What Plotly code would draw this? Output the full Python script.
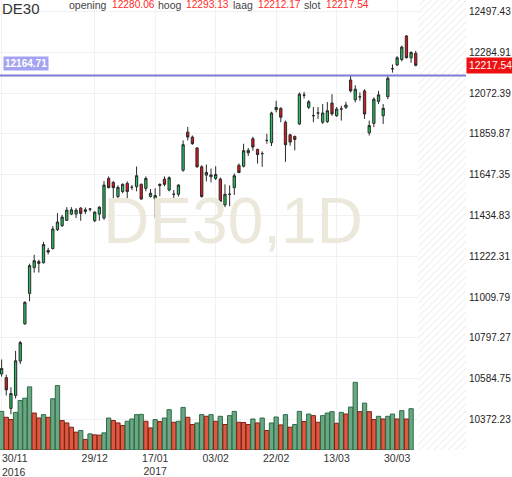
import pandas as pd
import plotly.graph_objects as go

# DE30 daily candles, 30/11/2016 - 05/04/2017 (26/12 closed)
dates = [d for d in pd.bdate_range("2016-11-30", "2017-04-05") if d != pd.Timestamp("2016-12-26")]

opens = [10609.8, 10590.7, 10430.6, 10497.8, 10676.9, 10871.0, 11029.6, 11163.8, 11194.8, 11189.6,
         11253.1, 11263.4, 11361.5, 11382.2, 11410.1, 11442.6, 11442.6, 11473.6, 11456.5, 11468.4,
         11408.0, 11442.6, 11421.9, 11628.5, 11607.8, 11534.0, 11559.8, 11602.6, 11582.0, 11585.6,
         11597.5, 11576.8, 11534.0, 11521.6, 11590.8, 11624.8, 11568.1, 11545.9, 11545.9, 11671.3,
         11869.6, 11843.8, 11787.0, 11688.9, 11645.5, 11637.2, 11628.5, 11624.8, 11490.6, 11545.9,
         11580.4, 11697.1, 11692.0, 11761.7, 11835.0, 11779.7, 11757.5, 11826.2, 11814.3, 11986.3,
         11993.5, 11921.2, 11855.6, 11846.9, 11912.4, 12062.2, 11998.6, 11955.3, 11969.2, 11921.2,
         11924.3, 12020.8, 11955.3, 11989.9, 11998.6, 12141.1, 12037.9, 12053.4, 12084.4, 11866.0,
         11915.0, 12029.6, 11955.3, 12054.4, 12200.0, 12219.6, 12248.0, 12370.4, 12256.8, 12280.06]
highs = [10685.2, 10606.2, 10540.6, 10730.1, 10781.7, 10988.2, 11184.4, 11230.9, 11205.1, 11298.0,
         11267.0, 11380.6, 11447.8, 11439.0, 11478.7, 11478.7, 11473.6, 11478.7, 11477.2, 11473.6,
         11456.5, 11483.9, 11614.5, 11638.8, 11614.5, 11592.3, 11602.6, 11613.0, 11593.9, 11690.4,
         11602.6, 11638.8, 11573.2, 11576.8, 11602.6, 11638.8, 11638.8, 11568.1, 11597.5, 11826.2,
         11896.9, 11852.0, 11792.1, 11697.1, 11700.7, 11680.1, 11692.0, 11633.6, 11597.5, 11592.3,
         11654.3, 11705.9, 11809.2, 11787.0, 11845.3, 11783.3, 11769.4, 11860.8, 11975.9, 12032.7,
         11998.6, 11929.5, 11860.8, 11852.0, 12076.1, 12079.2, 12036.3, 12000.2, 12000.2, 12015.7,
         12026.0, 12067.3, 12000.2, 12006.9, 12027.6, 12161.8, 12113.8, 12076.1, 12093.1, 11929.5,
         12050.3, 12084.4, 12015.7, 12165.4, 12222.2, 12265.1, 12320.3, 12375.5, 12290.9, 12293.13]
lows = [10595.9, 10497.8, 10399.7, 10482.3, 10661.4, 10865.9, 10988.2, 11138.0, 11138.0, 11184.4,
        11232.5, 11258.3, 11354.8, 11375.5, 11406.5, 11437.4, 11421.9, 11408.0, 11442.6, 11456.5,
        11401.3, 11408.0, 11413.2, 11576.8, 11525.2, 11525.2, 11551.0, 11525.2, 11568.1, 11561.3,
        11516.4, 11561.3, 11528.8, 11421.9, 11535.5, 11587.2, 11561.3, 11516.4, 11534.0, 11663.1,
        11826.2, 11804.0, 11683.7, 11528.8, 11613.0, 11607.8, 11619.7, 11499.4, 11478.7, 11483.9,
        11542.2, 11655.8, 11685.3, 11745.7, 11773.0, 11705.9, 11688.9, 11809.2, 11797.3, 11972.8,
        11921.2, 11714.7, 11798.8, 11774.6, 11907.3, 12045.1, 11989.9, 11921.2, 11938.2, 11912.4,
        11917.6, 11955.3, 11948.6, 11929.5, 11989.9, 12076.1, 12024.5, 12032.7, 11938.2, 11852.0,
        11895.4, 12015.7, 11912.4, 12041.5, 12179.4, 12213.4, 12237.7, 12253.2, 12231.0, 12212.17]
closes = [10638.7, 10527.2, 10508.1, 10678.5, 10773.0, 10983.1, 11174.1, 11199.9, 11186.0, 11284.1,
          11244.8, 11365.1, 11401.3, 11427.1, 11463.2, 11464.8, 11463.2, 11446.2, 11464.8, 11468.9,
          11452.9, 11478.7, 11593.9, 11580.4, 11580.4, 11582.0, 11597.5, 11559.8, 11582.0, 11642.4,
          11521.6, 11628.5, 11551.0, 11539.1, 11597.5, 11597.5, 11632.1, 11545.9, 11593.9, 11804.0,
          11843.8, 11809.2, 11688.9, 11534.0, 11659.4, 11646.5, 11649.1, 11508.2, 11545.9, 11545.9,
          11642.4, 11659.4, 11773.0, 11774.6, 11792.1, 11752.4, 11757.5, 11826.2, 11969.2, 11998.6,
          11947.0, 11804.0, 11817.9, 11831.4, 12067.3, 12062.2, 12027.6, 11955.3, 11969.2, 11969.2,
          11981.1, 11964.1, 11989.9, 11989.9, 12010.5, 12084.4, 12093.1, 12053.4, 11964.1, 11903.6,
          12041.5, 12063.7, 11993.5, 12149.9, 12200.0, 12256.8, 12312.6, 12256.8, 12284.2, 12217.54]
# volume in thousands, last session not shown yet
volume_k = [39.0, 33.0, 30.7, 38.0, 50.0, 52.3, 63.7, 37.3, 32.3, 35.7,
            33.0, 51.7, 65.0, 29.7, 27.3, 23.0, 18.0, 19.7, 10.7, 16.3,
            15.3, 15.0, 17.3, 32.3, 29.7, 27.3, 24.7, 29.0, 31.3, 35.7,
            36.0, 29.0, 22.3, 30.7, 28.7, 32.3, 40.7, 28.0, 29.0, 43.0,
            33.0, 25.7, 27.3, 35.7, 34.0, 35.7, 29.0, 34.0, 25.7, 34.7,
            39.0, 28.0, 27.7, 25.7, 31.3, 27.3, 32.3, 19.7, 27.3, 33.3,
            25.3, 35.7, 23.0, 25.7, 39.0, 28.7, 36.3, 34.7, 28.0, 34.7,
            37.3, 38.7, 27.0, 38.0, 36.3, 43.3, 68.3, 38.7, 47.3, 38.7,
            30.7, 34.0, 31.3, 34.0, 36.3, 31.3, 39.7, 31.3, 41.7, None]

level = 12164.71
header_labels = ["opening", "hoog", "laag", "slot"]
header_values = [opens[-1], highs[-1], lows[-1], closes[-1]]
price_ticks = [10372.23, 10584.75, 10797.27, 11009.79, 11222.31, 11434.83,
               11647.35, 11859.87, 12072.39, 12284.91, 12497.43]
label_dates = ["2016-11-30", "2016-12-29", "2017-01-17", "2017-02-03",
               "2017-02-22", "2017-03-13", "2017-03-30"]

FONT = "Liberation Sans, Arial, sans-serif"
xs = list(range(len(dates)))
x_range = [-0.35, len(dates) + 9.8]
y_range = [10213.8, 12557.8]

# volume colour: up vs previous bar
vol_colors, vol_lines = [], []
for i, v in enumerate(volume_k):
    up = i == 0 or (v is not None and v > volume_k[i - 1])
    vol_colors.append("rgba(70,145,100,0.8)" if up else "rgba(220,70,45,0.9)")
    vol_lines.append("#2f6b48" if up else "#7a2214")

date_idx = {d.strftime("%Y-%m-%d"): i for i, d in enumerate(dates)}
tick_idx = [date_idx[d] for d in label_dates]
tick_txt = []
prev_year = None
for d in label_dates:
    t = pd.Timestamp(d)
    s = t.strftime("%d/%m")
    if t.year != prev_year:
        s += "<br>" + str(t.year)
    prev_year = t.year
    tick_txt.append(s)
first_label = tick_txt[0]
tick_txt[0] = ""

fig = go.Figure()

# watermark behind the candles
fig.add_trace(go.Scatter(
    x=[sum(x_range) / 2], y=[sum(y_range) / 2 - 12], mode="text", text=["DE30,1D"],
    textfont=dict(family=FONT, size=64, color="#ece8dc"), hoverinfo="skip"))

fig.add_trace(go.Candlestick(
    x=xs, open=opens, high=highs, low=lows, close=closes,
    increasing=dict(fillcolor="#21c45c", line=dict(color="#2a2a2a", width=1)),
    decreasing=dict(fillcolor="#e8141b", line=dict(color="#2a2a2a", width=1)),
    whiskerwidth=0))

fig.add_trace(go.Bar(
    x=xs, y=volume_k, yaxis="y2", width=0.92,
    marker=dict(color=vol_colors, line=dict(color=vol_lines, width=1))))

# hatched "future" zone on the right
fig.add_trace(go.Bar(
    x=[(len(dates) - 0.4 + x_range[1]) / 2], y=[1], width=[x_range[1] - len(dates) + 0.4],
    yaxis="y3", hoverinfo="skip",
    marker=dict(color="white", line=dict(width=0),
                pattern=dict(shape="/", fgcolor="#dadada", bgcolor="white", size=5, solidity=0.2))))

fig.add_shape(type="line", xref="paper", x0=0, x1=1, yref="y", y0=level, y1=level,
              line=dict(color="#7d7dd9", width=2))

fig.add_annotation(xref="paper", x=0.006, xanchor="left", yref="y", y=level, yshift=12,
                   text="<b>%.2f</b>" % level, showarrow=False,
                   font=dict(family=FONT, size=10, color="white"),
                   bgcolor="#a3a3f2", borderpad=1)
fig.add_annotation(xref="paper", x=1.0, xanchor="left", yref="y", y=closes[-1],
                   text="%.2f" % closes[-1], showarrow=False,
                   font=dict(family=FONT, size=10.3, color="white"),
                   bgcolor="#ee1111", borderpad=2)

fig.add_annotation(xref="paper", x=0, xanchor="left", yref="paper", y=1, yanchor="top", yshift=2,
                   text="DE30", showarrow=False, font=dict(family=FONT, size=15, color="#333333"))
label_px = [67, 156, 231, 302]
value_px = [110, 184, 256, 324]
for lab, val, lx, vx in zip(header_labels, header_values, label_px, value_px):
    fig.add_annotation(xref="paper", x=lx / 466, xanchor="left", yref="paper", y=1, yanchor="top",
                       yshift=3, text=lab, showarrow=False,
                       font=dict(family=FONT, size=10.5, color="#444444"))
    fig.add_annotation(xref="paper", x=vx / 466, xanchor="left", yref="paper", y=1, yanchor="top",
                       yshift=3, text="%.2f" % val, showarrow=False,
                       font=dict(family=FONT, size=10.2, color="#ff2a2a"))

fig.add_annotation(xref="x", x=tick_idx[0], xanchor="left", xshift=-2, yref="paper", y=0,
                   yanchor="top", yshift=0, text=first_label, showarrow=False, align="left",
                   font=dict(family=FONT, size=10.5, color="#333333"))

fig.update_layout(
    width=512, height=477,
    margin=dict(l=0, r=46, t=0, b=23),
    paper_bgcolor="white", plot_bgcolor="white",
    showlegend=False, barmode="overlay",
    font=dict(family=FONT, size=10.5, color="#333333"),
    xaxis=dict(range=x_range, rangeslider=dict(visible=False), tickvals=tick_idx, ticktext=tick_txt,
               showgrid=True, gridcolor="#f1f1f1", zeroline=False, showline=False, ticks=""),
    yaxis=dict(range=y_range, side="right", tickvals=price_ticks,
               ticktext=["%.2f" % t for t in price_ticks],
               showgrid=True, gridcolor="#f1f1f1", zeroline=False, showline=False, ticks="",
               ticklabelstandoff=2,
               tickfont=dict(family=FONT, size=10, color="#222222")),
    yaxis2=dict(overlaying="y", range=[0, max(v for v in volume_k if v) * 6.65], visible=False),
    yaxis3=dict(overlaying="y", range=[0, 1], visible=False),
)

fig.write_html("out.html", config={"displayModeBar": False},
               post_script="document.body.style.margin='0px';")
